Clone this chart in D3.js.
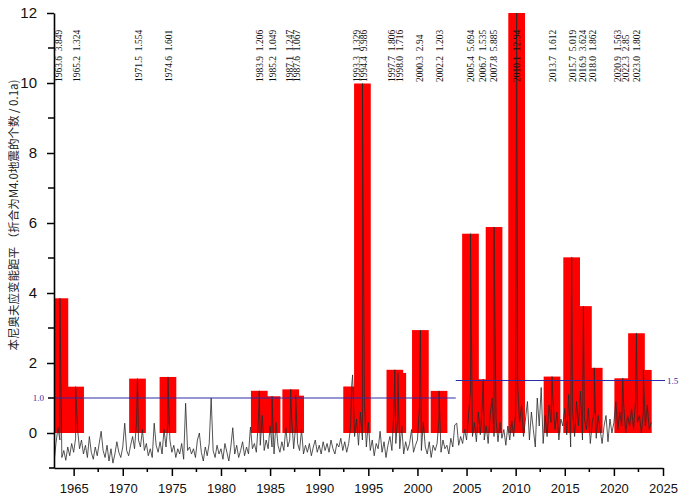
<!DOCTYPE html>
<html lang="zh">
<head>
<meta charset="utf-8">
<title>本尼奥夫应变能距平</title>
<script src="https://d3js.org/d3.v7.min.js"></script>
<style>
  body { margin: 0; background: #fff; }
  svg { display: block; }
  .peak { white-space: pre; }
</style>
</head>
<body>
<svg width="686" height="500"></svg>
<script>
// peak events (red bars + rotated labels)
const eventYears = [1963.6, 1965.2, 1971.5, 1974.6, 1983.9, 1985.2, 1987.1, 1987.6, 1993.3, 1994.4,
  1997.7, 1998.0, 2000.3, 2002.2, 2005.4, 2006.7, 2007.8, 2010.1, 2013.7, 2015.7,
  2016.9, 2018.0, 2020.9, 2022.3, 2023.0];
const eventValues = [3.849, 1.324, 1.554, 1.601, 1.206, 1.049, 1.247, 1.067, 1.329, 9.986,
  1.806, 1.716, 2.94, 1.203, 5.694, 1.535, 5.885, 12.94, 1.612, 5.019,
  3.624, 1.862, 1.563, 2.85, 1.802];
// where each label sits along the time axis (labels were hand-placed in the original)
const labelYears = [1963.5, 1965.3, 1971.65, 1974.7, 1983.95, 1985.25, 1987.0, 1987.7, 1993.8, 1994.55,
  1997.4, 1998.2, 2000.25, 2002.3, 2005.5, 2006.7, 2007.8, 2010.1, 2013.8, 2015.85,
  2016.9, 2017.9, 2020.45, 2021.25, 2022.4];

// background thresholds
const thresholdValues = [1.0, 1.5];
const thresholdFrom = [1963, 2003.9];
const thresholdTo = [2003.9, 2025];

// time series, one value every 0.2 year from 1963.0
const seriesStart = 1963.0;
const seriesStep = 0.2;
const seriesValues = [
  -0.85, -0.3, 0.15, -0.2, -0.7,    // 1963
  -0.5, -0.78, -0.4, -0.65, -0.3,   // 1964
  -0.55, -0.15, 0.1, -0.45, -0.2,   // 1965
  -0.6, -0.35, -0.7, -0.1, -0.55,   // 1966
  -0.75, -0.4, -0.65, -0.3, 0.05,   // 1967
  -0.5, -0.7, -0.35, -0.8, -0.45,   // 1968
  -0.86, -0.6, -0.25, -0.55, -0.7,  // 1969
  -0.4, 0.28, -0.5, -0.65, -0.35,   // 1970
  -0.1, -0.45, 0.3, -0.2, -0.4,     // 1971
  0.1, -0.5, -0.3, -0.65, -0.45,    // 1972
  -0.7, 0.28, -0.35, -0.55, -0.25,  // 1973
  -0.6, 0.1, -0.4, 0.3, -0.2,       // 1974
  -0.55, -0.35, -0.7, -0.45, -0.6,  // 1975
  -0.3, -0.75, 0.85, -0.5, -0.4,    // 1976
  -0.6, -0.45, -0.7, -0.2, 0.0,     // 1977
  -0.55, -0.8, -0.4, -0.65, -0.3,   // 1978
  1.0, -0.5, -0.7, -0.35, -0.6,     // 1979
  -0.45, -0.75, -0.3, -0.55, -0.8,  // 1980
  -0.4, 0.15, -0.6, -0.35, -0.7,    // 1981
  -0.5, -0.25, -0.65, -0.4, -0.6,   // 1982
  0.17, -0.45, -0.3, -0.55, 0.3,    // 1983
  -0.35, 0.5, -0.5, -0.2, -0.45,    // 1984
  0.2, -0.4, -0.6, 0.3, -0.35,      // 1985
  -0.55, -0.25, -0.5, 0.15, -0.4,   // 1986
  -0.2, 0.4, -0.45, 0.2, -0.3,      // 1987
  -0.5, 0.1, -0.6, -0.35, -0.55,    // 1988
  -0.3, -0.65, -0.4, -0.2, -0.55,   // 1989
  -0.35, -0.6, -0.25, -0.5, -0.3,   // 1990
  -0.55, -0.2, -0.45, -0.6, -0.3,   // 1991
  -0.4, -0.15, -0.5, -0.25, -0.55,  // 1992
  -0.3, 0.2, 1.66, -0.1, 0.4,       // 1993
  -0.35, 0.6, -0.2, 0.9, -0.4,      // 1994
  0.3, -0.5, -0.2, -0.65, -0.3,     // 1995
  -0.45, 0.05, -0.55, -0.25, -0.7,  // 1996
  -0.35, -0.1, -0.5, 0.6, -0.3,     // 1997
  0.5, -0.45, 0.2, -0.6, -0.25,     // 1998
  -0.5, -0.3, 0.1, -0.55, -0.35,    // 1999
  -0.2, 0.7, -0.5, 0.3, -0.4,       // 2000
  -0.6, -0.25, -0.7, -0.35, -0.5,   // 2001
  -0.3, 0.4, -0.55, -0.2, -0.45,    // 2002
  -0.35, -0.6, -0.15, -0.4, 0.23,   // 2003
  0.28, -0.35, -0.1, -0.3, 0.1,     // 2004
  -0.2, 0.5, 1.2, -0.1, 0.3,        // 2005
  -0.25, 0.6, -0.05, 0.8, -0.2,     // 2006
  0.2, -0.3, 0.5, 1.0, -0.1,        // 2007
  0.4, -0.25, 0.3, -0.15, 0.1,      // 2008
  -0.35, 0.2, -0.2, 0.35, -0.1,     // 2009
  0.6, 1.4, 0.3, 0.8, -0.1,         // 2010
  0.4, 0.9, -0.2, 0.6, 0.1,         // 2011
  -0.4, 1.0, 0.2, 1.3, -0.3,        // 2012
  0.5, -0.1, 0.8, 0.3, 0.9,         // 2013
  0.1, 0.6, -0.2, 0.4, 0.2,         // 2014
  0.7, -0.05, 1.1, -0.4, 0.6,       // 2015
  -0.1, 0.9, 0.2, 1.2, -0.2,        // 2016
  0.4, 0.1, 0.7, -0.3, 0.3,         // 2017
  0.6, -0.15, 0.5, 0.1, -0.3,       // 2018
  0.2, 0.5, -0.25, 0.4, 0.0,        // 2019
  0.3, 0.9, 0.1, 0.6, 0.2,          // 2020
  0.8, 0.0, 0.5, 0.2, 0.7,          // 2021
  0.1, 0.9, 0.3, 0.5, 0.0,          // 2022
  0.6, 0.2, 0.8, 0.1, 0.3           // 2023
];

const xTicks = d3.range(1965, 2026, 5);
const yTicks = d3.range(0, 13, 2);
const yTitle = "本尼奥夫应变能距平 （折合为M4.0地震的个数 / 0.1a)";

const svg = d3.select("svg");
const W = 686, H = 500;
svg.append("rect").attr("width", W).attr("height", H).attr("fill", "#fff");

const x = d3.scaleLinear().domain([1963, 2025]).range([54, 663]);
const y = d3.scaleLinear().domain([-1, 12]).range([468, 13]);
const barWidth = 1.7;
const blue = "#2c2ca8";

svg.append("defs").append("clipPath").attr("id", "plot")
  .append("rect")
  .attr("x", x.range()[0]).attr("y", y.range()[1])
  .attr("width", x.range()[1] - x.range()[0])
  .attr("height", y.range()[0] - y.range()[1]);

const events = eventYears.map((yr, i) => ({ year: yr, value: eventValues[i], at: labelYears[i] }));

const plot = svg.append("g").attr("clip-path", "url(#plot)");

// red bars
plot.selectAll("rect.bar")
  .data(events)
  .join("rect")
  .attr("class", "bar")
  .attr("x", d => x(d.year - barWidth / 2))
  .attr("width", x(seriesStart + barWidth) - x(seriesStart))
  .attr("y", d => y(d.value))
  .attr("height", d => y(0) - y(d.value))
  .attr("fill", "#ff0000");

// thresholds
thresholdValues.forEach((v, i) => {
  svg.append("line")
    .attr("x1", x(thresholdFrom[i])).attr("x2", x(thresholdTo[i]) + (i === 1 ? 2 : 0))
    .attr("y1", y(v)).attr("y2", y(v))
    .attr("stroke", blue).attr("stroke-width", 1);
});
svg.append("text")
  .attr("x", 44).attr("y", y(thresholdValues[0]) + 3)
  .attr("text-anchor", "end")
  .attr("font-family", "Liberation Serif, serif").attr("font-size", 9)
  .attr("fill", blue)
  .text(thresholdValues[0].toFixed(1));
svg.append("text")
  .attr("x", x(2025) + 4).attr("y", y(thresholdValues[1]) + 3)
  .attr("font-family", "Liberation Serif, serif").attr("font-size", 9)
  .attr("fill", blue)
  .text(thresholdValues[1].toFixed(1));

// time series with the event peaks merged in
const pts = seriesValues.map((v, i) => [seriesStart + i * seriesStep, v])
  .concat(events.map(d => [d.year, d.value]))
  .sort((a, b) => a[0] - b[0]);

plot.append("path")
  .datum(pts)
  .attr("fill", "none")
  .attr("stroke", "#2a2a2a")
  .attr("stroke-width", 0.8)
  .attr("stroke-linejoin", "round")
  .attr("d", d3.line().x(d => x(d[0])).y(d => y(d[1])));

// peak labels
svg.append("g").selectAll("text")
  .data(events)
  .join("text")
  .attr("class", "peak")
  .attr("transform", d => `translate(${x(d.at)},82) rotate(-90)`)
  .attr("dominant-baseline", "central")
  .attr("font-family", "Liberation Serif, serif")
  .attr("font-size", 9.5)
  .attr("fill", "#111")
  .text(d => d.year.toFixed(1) + "  " + d.value);

// axes
const gx = svg.append("g")
  .attr("transform", `translate(0,${y.range()[0]})`)
  .call(d3.axisBottom(x).tickValues(xTicks).tickFormat(d3.format("d"))
    .tickSize(8).tickPadding(8).tickSizeOuter(0));
gx.selectAll(".minor")
  .data(xTicks.slice(0, -1).map(t => t + 2.5))
  .join("line")
  .attr("class", "minor")
  .attr("x1", d => x(d)).attr("x2", d => x(d))
  .attr("y1", 0).attr("y2", 4)
  .attr("stroke", "#000").attr("stroke-width", 1.5);
gx.append("line")
  .attr("x1", x.range()[0] - 5).attr("x2", x.range()[0])
  .attr("stroke", "#000").attr("stroke-width", 1.6);

const gy = svg.append("g")
  .attr("transform", `translate(${x.range()[0]},0)`)
  .call(d3.axisLeft(y).tickValues(yTicks).tickSize(7).tickPadding(10).tickSizeOuter(0));
gy.selectAll(".minor")
  .data(d3.range(1, 12, 2))
  .join("line")
  .attr("class", "minor")
  .attr("x1", 0).attr("x2", -6)
  .attr("y1", d => y(d)).attr("y2", d => y(d))
  .attr("stroke", "#000").attr("stroke-width", 1.5);

[gx, gy].forEach(g => {
  g.select(".domain").attr("stroke-width", 1.6);
  g.selectAll(".tick line").attr("stroke-width", 1.5);
  g.selectAll(".tick text").attr("font-family", "Liberation Sans, Arial, sans-serif").attr("fill", "#111");
});
gx.selectAll(".tick text").attr("font-size", 13);
gy.selectAll(".tick text").attr("font-size", 15);

// y title
svg.append("text")
  .attr("transform", "translate(13,215) rotate(-90)")
  .attr("text-anchor", "middle")
  .attr("dominant-baseline", "central")
  .attr("font-family", "Noto Sans CJK SC, sans-serif")
  .attr("font-size", 11.5)
  .attr("fill", "#222")
  .text(yTitle);
</script>
</body>
</html>
